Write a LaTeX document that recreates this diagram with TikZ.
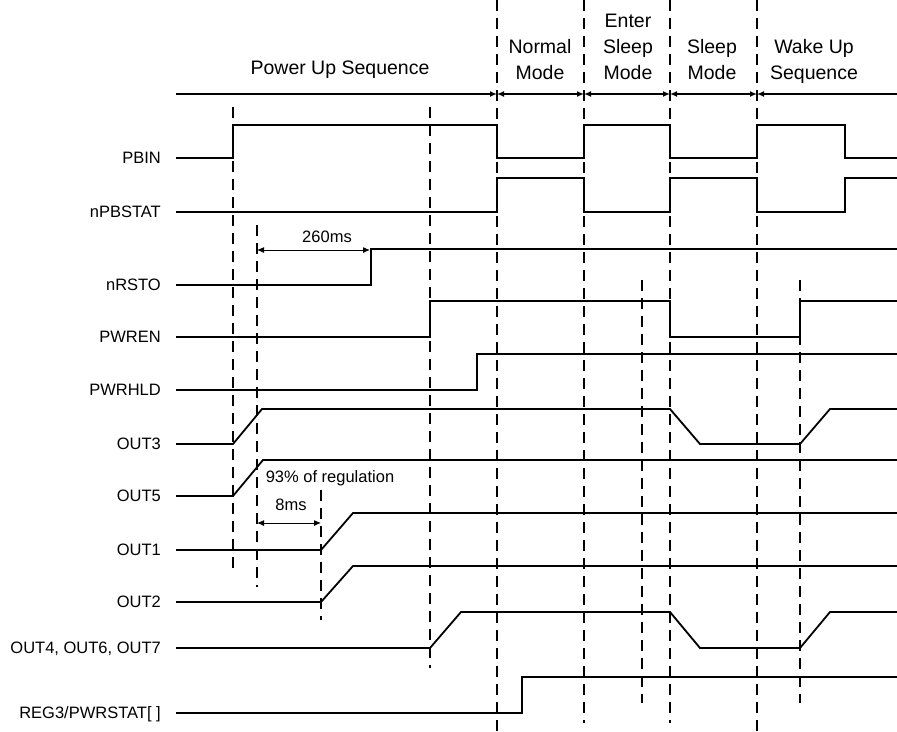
\documentclass[tikz,border=0pt]{standalone}
\usepackage{fontspec}
\setmainfont{Liberation Sans}
\usetikzlibrary{arrows.meta}

\begin{document}
\begin{tikzpicture}[x=1pt, y=-1pt, >={Latex[length=7pt,width=6pt]},
    sig/.style={line width=1.8pt},
    guide/.style={line width=1.3pt, dash pattern=on 11pt off 7pt},
    hline/.style={line width=1.3pt},
    lbl/.style={anchor=east, inner sep=0pt, text depth=0pt, font=\fontsize{16.5}{19}\selectfont},
    hdr/.style={anchor=south, align=center, inner sep=0pt, text depth=0pt, font=\fontsize{19.5}{26}\selectfont}]

    \useasboundingbox (0,0) rectangle (897,731);

    % Parameters
    \def\xs{176}   % start of the traces
    \def\xe{897}   % end of the traces
    \def\xa{497}   % power up -> normal
    \def\xb{584}   % normal -> enter sleep
    \def\xc{670}   % enter sleep -> sleep
    \def\xd{757}   % sleep -> wake up

    % Phase boundaries
    \coordinate (b0) at (\xs,94);
    \coordinate (b1) at (\xa,94);
    \coordinate (b2) at (\xb,94);
    \coordinate (b3) at (\xc,94);
    \coordinate (b4) at (\xd,94);
    \coordinate (b5) at (\xe,94);

    % Phase arrows
    \draw[hline, ->] (b0) -- (b1);
    \draw[hline, <->] (b1) -- (b2);
    \draw[hline, <->] (b2) -- (b3);
    \draw[hline, <->] (b3) -- (b4);
    \draw[hline, <-] (b4) -- (b5);

    % Phase names
    \node[hdr] (pup) at (340,75) {Power Up Sequence};
    \node[hdr] (nrm) at (540,80) {Normal\\Mode};
    \node[hdr] (ent) at (628,80) {Enter\\Sleep\\Mode};
    \node[hdr] (slp) at (712,80) {Sleep\\Mode};
    \node[hdr] (wak) at (814,80) {Wake Up\\Sequence};

    % Dashed markers
    \draw[guide] (233,107) -- (233,573);
    \draw[guide] (257,225) -- (257,587);
    \draw[guide] (321,490) -- (321,620);
    \draw[guide] (430,107) -- (430,668);
    \draw[guide] (\xa,0) -- (\xa,731);
    \draw[guide] (\xb,0) -- (\xb,723);
    \draw[guide] (642,280) -- (642,703);
    \draw[guide] (\xc,0) -- (\xc,723);
    \draw[guide] (\xd,0) -- (\xd,731);
    \draw[guide] (800,280) -- (800,703);

    % Signal names
    \node[lbl] (pbin) at (161,158) {PBIN};
    \node[lbl] (npbstat) at (161,212) {nPBSTAT};
    \node[lbl] (nrsto) at (161,285) {nRSTO};
    \node[lbl] (pwren) at (161,337) {PWREN};
    \node[lbl] (pwrhld) at (161,390) {PWRHLD};
    \node[lbl] (out3) at (161,444) {OUT3};
    \node[lbl] (out5) at (161,496) {OUT5};
    \node[lbl] (out1) at (161,550) {OUT1};
    \node[lbl] (out2) at (161,602) {OUT2};
    \node[lbl] (out467) at (161,648) {OUT4, OUT6, OUT7};
    \node[lbl] (reg3) at (161,713) {REG3/PWRSTAT[ ]};

    % PBIN
    \draw[sig] (\xs,158) -- (233,158) -- (233,125) -- (\xa,125) -- (\xa,158)
      -- (\xb,158) -- (\xb,125) -- (\xc,125) -- (\xc,158) -- (\xd,158)
      -- (\xd,125) -- (845,125) -- (845,158) -- (\xe,158);

    % nPBSTAT
    \draw[sig] (\xs,212) -- (\xa,212) -- (\xa,178) -- (\xb,178) -- (\xb,212)
      -- (\xc,212) -- (\xc,178) -- (\xd,178) -- (\xd,212) -- (845,212)
      -- (845,178) -- (\xe,178);

    % nRSTO
    \draw[sig] (\xs,285) -- (371,285) -- (371,249) -- (\xe,249);

    % PWREN
    \draw[sig] (\xs,337) -- (430,337) -- (430,301) -- (\xc,301) -- (\xc,337)
      -- (800,337) -- (800,301) -- (\xe,301);

    % PWRHLD
    \draw[sig] (\xs,390) -- (477,390) -- (477,354) -- (\xe,354);

    % OUT3
    \draw[sig] (\xs,444) -- (233,444) -- (262,409) -- (\xc,409) -- (700,444)
      -- (800,444) -- (830,409) -- (\xe,409);

    % OUT5
    \draw[sig] (\xs,496) -- (233,496) -- (263,460) -- (\xe,460);

    % OUT1
    \draw[sig] (\xs,550) -- (321,550) -- (353,513) -- (\xe,513);

    % OUT2
    \draw[sig] (\xs,602) -- (321,602) -- (353,566) -- (\xe,566);

    % OUT4, OUT6, OUT7
    \draw[sig] (\xs,648) -- (430,648) -- (461,612) -- (\xc,612) -- (700,648)
      -- (800,648) -- (830,612) -- (\xe,612);

    % REG3/PWRSTAT
    \draw[sig] (\xs,713) -- (522,713) -- (522,677) -- (\xe,677);

    % Timing notes
    \coordinate (t1) at (257,250);
    \coordinate (t2) at (370,250);
    \draw[<->, line width=1pt] (t1) -- (t2);
    \node[lbl, anchor=center] (d260) at (327,237) {260ms};

    \node[lbl, anchor=center] (reg) at (330,477) {93\% of regulation};

    \coordinate (t3) at (257,523);
    \coordinate (t4) at (321,523);
    \draw[<->, line width=1pt] (t3) -- (t4);
    \node[lbl, anchor=center] (d8) at (291,505) {8ms};
\end{tikzpicture}
\end{document}
